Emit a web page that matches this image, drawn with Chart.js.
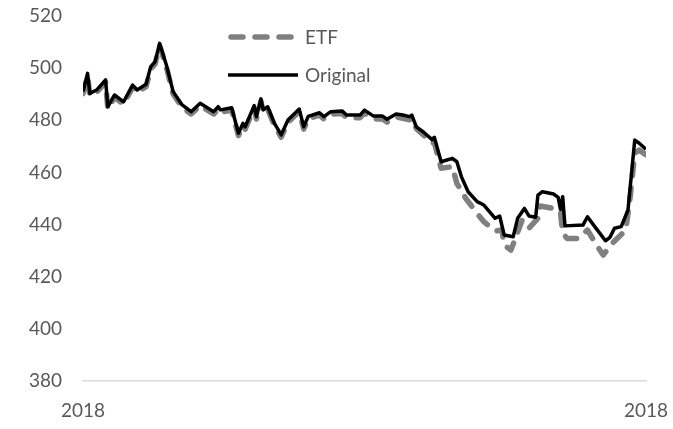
<!DOCTYPE html>
<html>
<head>
<meta charset="utf-8">
<script src="https://cdn.jsdelivr.net/npm/chart.js@4"></script>
<style>
  html, body { margin: 0; padding: 0; background: #fff; }
  #wrap { width: 673px; height: 429px; }
</style>
</head>
<body>
<div id="wrap"><canvas id="chart" width="673" height="429"></canvas></div>
<script>
// trading day within the year and index level
const origDays = [0, 2, 3, 6, 10, 11, 14, 18, 22, 24, 28, 30, 32, 34, 37, 40, 44, 48, 52, 58,
    60, 61, 66, 69, 71, 72, 76, 77, 79, 80, 82, 85, 88, 91, 96, 98, 100, 105, 107, 110,
    115, 117, 123, 125, 129, 133, 135, 139, 142, 145, 146, 148, 151, 155, 156, 159, 164, 166, 168, 171,
    175, 178, 183, 185, 187, 191, 193, 196, 198, 201, 202, 204, 209, 211, 212, 213, 214, 222, 224, 227,
    232, 234, 236, 239, 242, 245, 247, 250];
const origValues = [491, 498, 490.3, 491.6, 495.5, 485.2, 489.7, 487.1, 493.5, 491.6, 493.8, 500.5, 502.5, 509.5, 501.2, 491, 485.9, 483.3, 486.5, 483.3,
    485.2, 484, 484.8, 475, 478.8, 477.5, 485.6, 481.4, 488.2, 484, 485.2, 478.8, 474.4, 480.1, 484.3, 477.5, 481.5, 482.9, 481.4, 483.3,
    483.6, 482, 482, 483.9, 481.6, 481.6, 480.4, 482.4, 482, 481.4, 482, 477.5, 475.6, 472.6, 473.5, 464.1, 465.4, 464.1, 458.4, 452.6,
    448.8, 447.5, 442.4, 443.3, 436, 435.3, 442.4, 446.2, 443.3, 442.8, 451.3, 452.6, 451.7, 450.4, 445.8, 450.7, 439.5, 439.8, 443, 439.5,
    433.8, 435.1, 438.6, 439.2, 445.6, 472.4, 471.2, 468.9];

const etfDays = [0, 2, 3, 6, 10, 11, 14, 18, 22, 24, 28, 30, 32, 34, 37, 40, 44, 48, 52, 58,
    60, 61, 66, 69, 71, 72, 76, 77, 79, 80, 82, 85, 88, 91, 96, 98, 100, 105, 107, 110,
    115, 117, 123, 125, 129, 133, 135, 139, 142, 145, 146, 148, 151, 155, 156, 159, 164, 166, 170, 175,
    178, 183, 186, 187, 190, 192, 195, 198, 202, 203, 209, 212, 213, 215, 220, 224, 228, 231, 235, 238,
    241, 243, 245, 247, 250];
const etfValues = [490.2, 497.1, 489.4, 490.7, 494.6, 484.3, 488.8, 486.2, 492.6, 490.7, 492.9, 499.6, 501.6, 508.6, 500.3, 490.1, 485, 482.4, 485.6, 482.4,
    484.3, 483.1, 483.9, 474.1, 477.9, 476.6, 484.7, 480.5, 487.3, 483.1, 484.3, 477.9, 473.5, 479.2, 483.4, 476.6, 480.6, 482, 480.5, 482.4,
    482.6, 481, 481, 482.8, 480.5, 480.5, 479.3, 481.3, 480.8, 480.2, 480.6, 476.8, 474.5, 471.2, 471.5, 461.6, 462.2, 455.8, 450, 444.3,
    441.1, 437.5, 437.9, 432.2, 430.2, 434.7, 441.7, 438.6, 442.4, 447.1, 446.2, 444.9, 436.7, 434.7, 434.7, 437.9, 432.2, 428.3, 432.8, 435.3,
    437.9, 450.7, 467.4, 468.6, 466.7];

const xTickDays = [0, 250];
const xTickLabels = ['2018', '2018'];
const seriesNames = ['ETF', 'Original'];

const textColor = '#595959';
const fontFamily = 'Lato, "Open Sans", sans-serif';

function toPoints(days, values) {
    return days.map((d, i) => ({ x: d, y: values[i] }));
}

// legend sits inside the plot, drawn by hand
const innerLegend = {
    id: 'innerLegend',
    afterDatasetsDraw(chart) {
        const ctx = chart.ctx;
        const rows = [
            { ds: chart.data.datasets[0], y: 37 },
            { ds: chart.data.datasets[1], y: 75 }
        ];
        ctx.save();
        rows.forEach(r => {
            ctx.beginPath();
            ctx.strokeStyle = r.ds.borderColor;
            ctx.lineWidth = r.ds.borderWidth;
            ctx.lineCap = r.ds.borderCapStyle || 'butt';
            ctx.setLineDash(r.ds.borderDash || []);
            const x0 = r.ds.borderDash ? 231 : 228;
            const x1 = r.ds.borderDash ? 291 : 298;
            ctx.moveTo(x0, r.y);
            ctx.lineTo(x1, r.y);
            ctx.stroke();
            ctx.setLineDash([]);
            ctx.fillStyle = textColor;
            ctx.font = '19px ' + fontFamily;
            ctx.textBaseline = 'middle';
            ctx.fillText(r.ds.label, 305, r.y + 1);
        });
        ctx.restore();
    }
};

new Chart(document.getElementById('chart'), {
    type: 'line',
    data: {
        datasets: [{
            label: seriesNames[0],
            data: toPoints(etfDays, etfValues),
            borderColor: '#808080',
            borderWidth: 5.5,
            borderDash: [12, 12],
            borderCapStyle: 'round',
            borderJoinStyle: 'round',
            pointRadius: 0,
            tension: 0,
            order: 1
        }, {
            label: seriesNames[1],
            data: toPoints(origDays, origValues),
            borderColor: '#000000',
            borderWidth: 3.5,
            borderJoinStyle: 'round',
            pointRadius: 0,
            tension: 0,
            order: 0
        }]
    },
    options: {
        responsive: false,
        animation: false,
        layout: { padding: { left: 8, right: 27, top: 16, bottom: 0 } },
        plugins: {
            legend: { display: false },
            tooltip: { enabled: false }
        },
        scales: {
            x: {
                type: 'linear',
                min: 0,
                max: 250,
                grid: { display: false, drawTicks: false },
                border: { display: true, color: '#d9d9d9', width: 1.5 },
                afterBuildTicks(scale) {
                    scale.ticks = xTickDays.map(v => ({ value: v }));
                },
                afterFit(scale) {
                    scale.paddingLeft = 0;
                    scale.paddingRight = 0;
                    scale.height = 48;
                },
                ticks: {
                    color: textColor,
                    font: { family: fontFamily, size: 19 },
                    padding: 18,
                    maxRotation: 0,
                    autoSkip: false,
                    callback: (value) => xTickLabels[xTickDays.indexOf(value)]
                }
            },
            y: {
                min: 380,
                max: 520,
                grid: { display: false, drawTicks: false },
                border: { display: false },
                afterFit(scale) {
                    scale.paddingTop = 0;
                    scale.paddingBottom = 0;
                },
                ticks: {
                    stepSize: 20,
                    color: textColor,
                    font: { family: fontFamily, size: 19 },
                    padding: 21
                }
            }
        }
    },
    plugins: [innerLegend]
});
</script>
</body>
</html>
